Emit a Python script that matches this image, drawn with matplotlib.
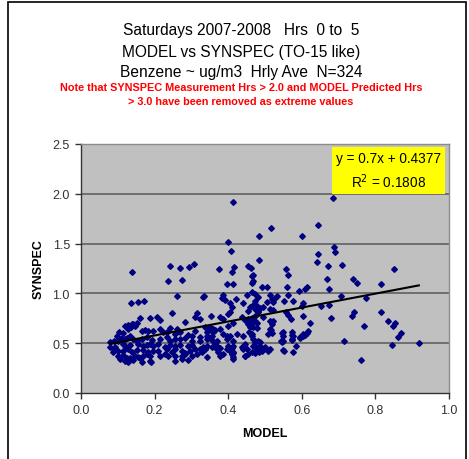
import numpy as np
import matplotlib
matplotlib.use("Agg")
import matplotlib.pyplot as plt
from matplotlib.patches import Rectangle

plt.rcParams['font.family'] = ['Liberation Sans', 'DejaVu Sans']

# points, grouped by area
high_x = [0.413, 0.516, 0.484, 0.601, 0.644, 0.399, 0.408, 0.484, 0.375, 0.416, 0.410, 0.454, 0.462,
          0.467, 0.557, 0.563, 0.644, 0.641, 0.685, 0.688, 0.690, 0.671, 0.709, 0.851, 0.668, 0.739]
high_y = [1.92, 1.66, 1.58, 1.58, 1.69, 1.52, 1.43, 1.34, 1.25, 1.27, 1.21, 1.28, 1.26,
          1.18, 1.25, 1.18, 1.40, 1.32, 1.96, 1.47, 1.42, 1.28, 1.29, 1.25, 1.14, 1.14]

right_x = [0.674, 0.750, 0.815, 0.707, 0.774, 0.652, 0.674, 0.679, 0.742, 0.736, 0.815, 0.834, 0.853,
           0.848, 0.769, 0.870, 0.861, 0.715, 0.845, 0.918, 0.761]
right_y = [1.04, 1.10, 1.09, 0.97, 0.95, 0.87, 0.88, 0.75, 0.81, 0.77, 0.81, 0.72, 0.70,
           0.67, 0.67, 0.60, 0.56, 0.52, 0.48, 0.50, 0.33]

upleft_x = [0.139, 0.242, 0.269, 0.293, 0.307, 0.236, 0.274, 0.397, 0.413, 0.261, 0.334, 0.136, 0.155,
            0.171, 0.386, 0.391, 0.383, 0.405, 0.410]
upleft_y = [1.21, 1.28, 1.26, 1.27, 1.30, 1.12, 1.13, 1.09, 1.09, 0.97, 0.97, 0.90, 0.91,
            0.92, 0.98, 0.93, 0.95, 0.90, 0.86]

mid_x = [0.465, 0.467, 0.465, 0.492, 0.505, 0.560, 0.465, 0.473, 0.592, 0.609, 0.614, 0.563, 0.514,
         0.533, 0.576, 0.552, 0.505, 0.519, 0.522, 0.481, 0.473, 0.603, 0.601, 0.478, 0.486, 0.514,
         0.522, 0.557, 0.563, 0.481, 0.473, 0.465, 0.571, 0.622, 0.514, 0.519, 0.522, 0.473, 0.478,
         0.465, 0.478, 0.516, 0.508, 0.519, 0.549, 0.573, 0.573, 0.614, 0.609, 0.603, 0.595, 0.465,
         0.467, 0.481, 0.473, 0.486, 0.543, 0.549, 0.573, 0.584, 0.500, 0.549, 0.576, 0.473, 0.484,
         0.465]
mid_y = [1.17, 1.12, 1.10, 1.06, 1.06, 1.06, 1.01, 0.99, 1.02, 1.04, 1.06, 0.98, 0.98,
         0.97, 0.92, 0.92, 0.91, 0.94, 0.91, 0.96, 0.92, 0.90, 0.87, 0.87, 0.85, 0.84,
         0.83, 0.81, 0.78, 0.81, 0.77, 0.75, 0.74, 0.70, 0.72, 0.69, 0.72, 0.72, 0.70,
         0.71, 0.65, 0.63, 0.59, 0.60, 0.61, 0.61, 0.58, 0.60, 0.58, 0.57, 0.55, 0.57,
         0.54, 0.52, 0.51, 0.51, 0.52, 0.52, 0.53, 0.47, 0.46, 0.43, 0.41, 0.41, 0.41,
         0.41]

center_x = [0.332, 0.421, 0.451, 0.527, 0.440, 0.467, 0.459, 0.454, 0.473, 0.495, 0.481, 0.405, 0.399,
            0.353, 0.378, 0.386, 0.438, 0.446, 0.454, 0.467, 0.495, 0.603, 0.323, 0.337, 0.351, 0.359,
            0.359, 0.413, 0.399, 0.454, 0.459, 0.467, 0.514, 0.386, 0.397, 0.424, 0.440, 0.457, 0.465,
            0.546, 0.549, 0.576, 0.573, 0.595, 0.603, 0.617, 0.342, 0.351, 0.323, 0.359, 0.364, 0.370,
            0.337, 0.332, 0.323, 0.370, 0.378, 0.399, 0.410, 0.405, 0.413, 0.410, 0.440, 0.451, 0.473,
            0.486, 0.478, 0.492, 0.473, 0.446, 0.508, 0.514, 0.546, 0.552]
center_y = [0.96, 0.94, 0.98, 0.95, 0.90, 0.88, 0.86, 0.82, 0.84, 0.86, 0.82, 0.81, 0.79,
            0.77, 0.76, 0.74, 0.76, 0.73, 0.74, 0.72, 0.76, 0.77, 0.74, 0.66, 0.64, 0.64,
            0.61, 0.70, 0.67, 0.69, 0.66, 0.66, 0.64, 0.59, 0.57, 0.59, 0.57, 0.61, 0.59,
            0.60, 0.57, 0.57, 0.54, 0.56, 0.59, 0.62, 0.57, 0.55, 0.52, 0.52, 0.50, 0.47,
            0.44, 0.46, 0.44, 0.44, 0.45, 0.47, 0.45, 0.42, 0.40, 0.39, 0.46, 0.44, 0.47,
            0.47, 0.43, 0.42, 0.40, 0.37, 0.42, 0.44, 0.51, 0.42]

low_x = [0.247, 0.188, 0.207, 0.215, 0.315, 0.310, 0.283, 0.160, 0.139, 0.152, 0.147, 0.120, 0.128,
         0.103, 0.114, 0.166, 0.174, 0.182, 0.196, 0.215, 0.223, 0.234, 0.242, 0.261, 0.269, 0.255,
         0.291, 0.302, 0.310, 0.342, 0.351, 0.364, 0.378, 0.098, 0.111, 0.101, 0.125, 0.133, 0.141,
         0.152, 0.166, 0.179, 0.193, 0.215, 0.234, 0.242, 0.255, 0.269, 0.283, 0.302, 0.323, 0.342,
         0.356, 0.370, 0.397, 0.405, 0.413, 0.079, 0.090, 0.114, 0.120, 0.133, 0.155, 0.168, 0.179,
         0.188, 0.196, 0.209, 0.228, 0.242, 0.255, 0.269, 0.291, 0.302, 0.342, 0.356, 0.370, 0.397,
         0.413, 0.438, 0.446, 0.467, 0.090, 0.101, 0.079, 0.114, 0.128, 0.139, 0.152, 0.168, 0.182,
         0.196, 0.209, 0.234, 0.247, 0.255, 0.274, 0.283, 0.296, 0.310, 0.329, 0.337, 0.372, 0.386,
         0.413, 0.440, 0.454, 0.478, 0.087, 0.101, 0.114, 0.125, 0.133, 0.147, 0.155, 0.168, 0.179,
         0.188, 0.215, 0.228, 0.236, 0.255, 0.274, 0.283, 0.302, 0.315, 0.342, 0.378, 0.410, 0.413,
         0.446, 0.106, 0.120, 0.128, 0.141, 0.160, 0.166, 0.188, 0.255, 0.274, 0.291, 0.413, 0.128,
         0.190, 0.092, 0.103, 0.120, 0.128, 0.136, 0.141]
low_y = [0.80, 0.75, 0.76, 0.73, 0.80, 0.76, 0.71, 0.75, 0.69, 0.70, 0.67, 0.67, 0.64,
         0.61, 0.60, 0.62, 0.63, 0.62, 0.62, 0.64, 0.61, 0.61, 0.65, 0.64, 0.61, 0.59,
         0.58, 0.57, 0.62, 0.61, 0.66, 0.63, 0.64, 0.57, 0.55, 0.52, 0.55, 0.57, 0.54,
         0.52, 0.54, 0.56, 0.53, 0.54, 0.56, 0.52, 0.54, 0.54, 0.55, 0.52, 0.56, 0.54,
         0.57, 0.52, 0.54, 0.57, 0.52, 0.51, 0.52, 0.49, 0.47, 0.48, 0.49, 0.47, 0.48,
         0.49, 0.47, 0.49, 0.46, 0.48, 0.47, 0.48, 0.47, 0.48, 0.47, 0.46, 0.44, 0.44,
         0.47, 0.46, 0.49, 0.47, 0.44, 0.42, 0.46, 0.42, 0.44, 0.41, 0.43, 0.43, 0.41,
         0.42, 0.42, 0.44, 0.41, 0.44, 0.42, 0.40, 0.42, 0.44, 0.41, 0.44, 0.41, 0.39,
         0.41, 0.44, 0.39, 0.44, 0.41, 0.37, 0.38, 0.35, 0.35, 0.37, 0.36, 0.37, 0.39,
         0.37, 0.37, 0.39, 0.37, 0.37, 0.37, 0.39, 0.37, 0.39, 0.36, 0.37, 0.39, 0.36,
         0.37, 0.34, 0.32, 0.32, 0.33, 0.35, 0.31, 0.32, 0.32, 0.34, 0.33, 0.34, 0.31,
         0.31, 0.46, 0.53, 0.54, 0.68, 0.66, 0.69]

model = np.array(high_x + right_x + upleft_x + mid_x + center_x + low_x)
synspec = np.array(high_y + right_y + upleft_y + mid_y + center_y + low_y)

# trend line as printed on the chart
slope = 0.7
intercept = 0.4377
r_squared = 0.1808

W, H = 469, 460
fig = plt.figure(figsize=(W / 100, H / 100), dpi=100)
fig.patch.set_facecolor('white')

# outer chart border
fig.add_artist(Rectangle((8 / W, -0.02), 458 / W, 1 - 3 / H + 0.02, transform=fig.transFigure,
                         fill=False, edgecolor='black', linewidth=1.2))

ax = fig.add_axes([81 / W, 1 - 394 / H, 368 / W, 249 / H])
ax.set_facecolor('#C0C0C0')

for g in [0.5, 1.0, 1.5, 2.0]:
    ax.axhline(g, color='#6E6E6E', linewidth=1.4, zorder=1)

ax.plot(model, synspec, linestyle='none', marker='D', markersize=2.9,
        color='#000080', markeredgecolor='#000080', zorder=3)

xs = np.array([model.min(), model.max()])
ax.plot(xs, slope * xs + intercept, color='black', linewidth=1.5, zorder=4)

ax.set_xlim(0, 1.0)
ax.set_ylim(0, 2.5)
ax.set_xticks(np.arange(0, 1.01, 0.2))
ax.set_yticks(np.arange(0, 2.51, 0.5))
ax.xaxis.set_major_formatter(matplotlib.ticker.FormatStrFormatter('%.1f'))
ax.yaxis.set_major_formatter(matplotlib.ticker.FormatStrFormatter('%.1f'))
ax.tick_params(axis='both', direction='out', length=4, width=1, labelsize=9,
               labelcolor='#333333', color='#333333', pad=4)

for side in ['left', 'bottom']:
    ax.spines[side].set_color('#333333')
    ax.spines[side].set_linewidth(1)
for side in ['top', 'right']:
    ax.spines[side].set_color('#8C8C8C')
    ax.spines[side].set_linewidth(1)

ax.set_xlabel('MODEL', fontsize=9, fontweight='bold', labelpad=8)
ax.set_ylabel('SYNSPEC', fontsize=9, fontweight='bold', labelpad=6)

# equation box
ax.text(0.836, 2.425, f'y = {slope}x + {intercept}\nR$^2$ = {r_squared}', ha='center', va='top',
        fontsize=9.8, linespacing=1.4,
        bbox=dict(boxstyle='square,pad=0.3', facecolor='yellow', edgecolor='none'), zorder=5)

# titles
title_lines = ['Saturdays 2007-2008   Hrs  0 to  5',
               'MODEL vs SYNSPEC (TO-15 like)',
               'Benzene ~ ug/m3  Hrly Ave  N=324']
for i, line in enumerate(title_lines):
    fig.text(241 / W, 1 - (31 + 21 * i) / H, line, ha='center', va='center', fontsize=11.2)

note_lines = ['Note that SYNSPEC Measurement Hrs > 2.0 and MODEL Predicted Hrs',
              '> 3.0 have been removed as extreme values']
for i, line in enumerate(note_lines):
    fig.text(241 / W, 1 - (88 + 14 * i) / H, line, ha='center', va='center', fontsize=7.8,
             fontweight='bold', color='red')

fig.savefig('out.png', dpi=100)
